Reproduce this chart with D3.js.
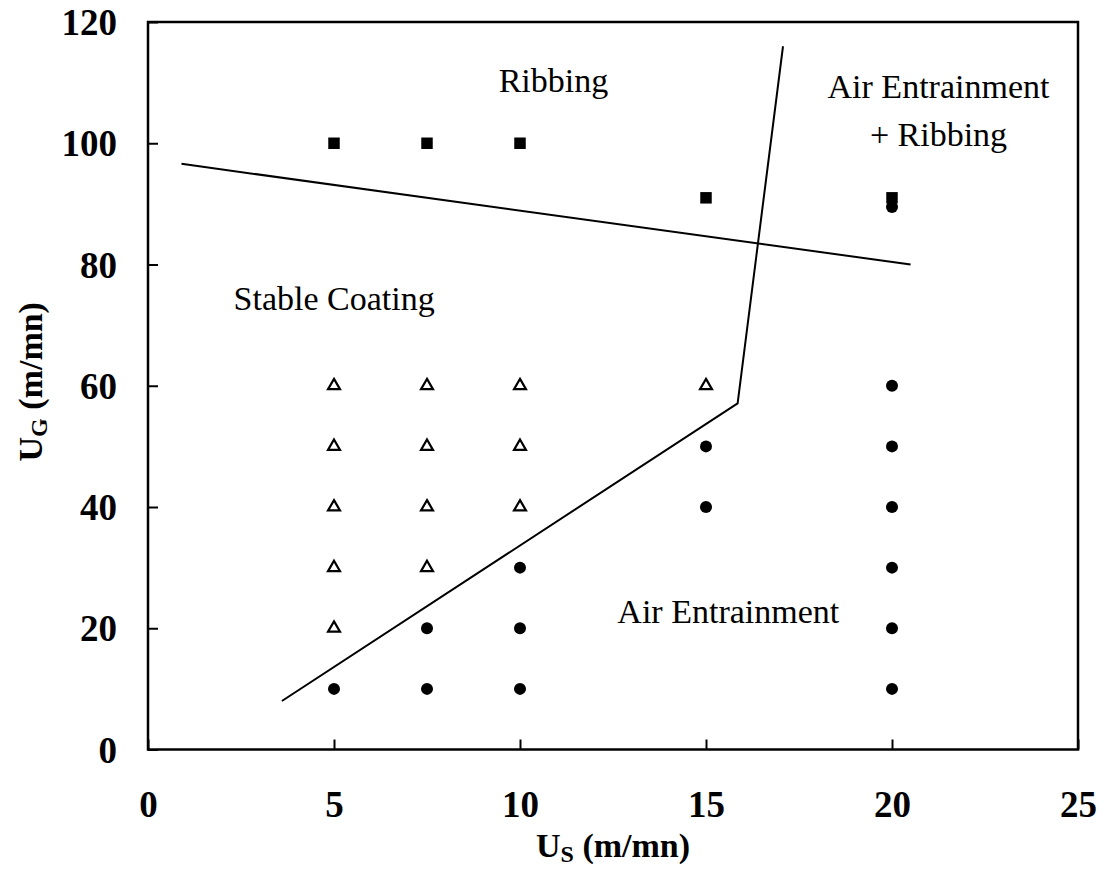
<!DOCTYPE html>
<html lang="en">
  <head>
    <meta charset="utf-8">
    <title>Coating regimes</title>
    <style>
      body { margin: 0; background: #fff; }
      svg text { font-family: "Liberation Serif", "Times New Roman", serif; }
    </style>
  </head>
  <body>
    <svg id="chart"></svg>

    <script src="https://d3js.org/d3.v7.min.js"></script>

    <script type="text/javascript">
      // measured points (Us, Ug) in m/mn
      const stablePoints = [
        [5, 20], [5, 30], [5, 40], [5, 50], [5, 60],
        [7.5, 30], [7.5, 40], [7.5, 50], [7.5, 60],
        [10, 40], [10, 50], [10, 60],
        [15, 60]
      ];
      const airPoints = [
        [5, 10],
        [7.5, 10], [7.5, 20],
        [10, 10], [10, 20], [10, 30],
        [15, 40], [15, 50],
        [20, 10], [20, 20], [20, 30], [20, 40], [20, 50], [20, 60], [20, 89.5]
      ];
      const ribbingPoints = [[5, 100], [7.5, 100], [10, 100], [15, 91], [20, 91]];

      // hand-drawn regime boundaries
      const ribbingBoundary = [[0.9, 96.6], [20.5, 80]];
      const airBoundary = [[3.6, 8], [15.85, 57.1], [17.07, 116]];

      const xTicks = [0, 5, 10, 15, 20, 25];
      const yTicks = [0, 20, 40, 60, 80, 100, 120];

      const labels = [
        { text: 'Ribbing', x: 10.9, y: 108.5, anchor: 'middle' },
        { text: 'Air Entrainment', x: 21.25, y: 107.5, anchor: 'middle' },
        { text: '+ Ribbing', x: 21.25, y: 99.5, anchor: 'middle' },
        { text: 'Stable Coating', x: 2.3, y: 72.5, anchor: 'start' },
        { text: 'Air Entrainment', x: 15.6, y: 20.9, anchor: 'middle' }
      ];

      const width = 1103, height = 874;
      const margin = { top: 22, right: 25, bottom: 124.5, left: 148 };
      const w = width - margin.left - margin.right;
      const h = height - margin.top - margin.bottom;

      const svg = d3.select('#chart')
        .attr('width', width)
        .attr('height', height);

      const g = svg.append('g')
        .attr('transform', `translate(${margin.left},${margin.top})`);

      const x = d3.scaleLinear().domain([0, 25]).range([0, w]);
      const y = d3.scaleLinear().domain([0, 120]).range([h, 0]);

      // axes with inward ticks
      const xAxis = g.append('g')
        .attr('transform', `translate(0,${h})`)
        .call(d3.axisBottom(x).tickValues(xTicks).tickSize(-10).tickPadding(42));
      const yAxis = g.append('g')
        .call(d3.axisLeft(y).tickValues(yTicks).tickSize(-10).tickPadding(31));

      [xAxis, yAxis].forEach(a => {
        a.select('.domain').remove();
        a.selectAll('.tick line').attr('stroke', '#000').attr('stroke-width', 2);
        a.selectAll('.tick text')
          .attr('fill', '#000')
          .style('font-size', '37px')
          .style('font-weight', 'bold');
      });
      yAxis.selectAll('.tick text').attr('dy', '0.34em');
      xAxis.selectAll('.tick text').attr('dy', '0.68em');

      // frame
      g.append('rect')
        .attr('width', w)
        .attr('height', h)
        .attr('fill', 'none')
        .attr('stroke', '#000')
        .attr('stroke-width', 2.5);

      // boundaries
      const line = d3.line().x(d => x(d[0])).y(d => y(d[1]));
      [ribbingBoundary, airBoundary].forEach(b => {
        g.append('path')
          .attr('d', line(b))
          .attr('fill', 'none')
          .attr('stroke', '#000')
          .attr('stroke-width', 2);
      });

      // markers
      g.selectAll('.stable')
        .data(stablePoints)
        .join('path')
        .attr('class', 'stable')
        .attr('transform', d => `translate(${x(d[0])},${y(d[1])})`)
        .attr('d', d3.symbol().type(d3.symbolTriangle).size(62))
        .attr('fill', '#fff')
        .attr('stroke', '#000')
        .attr('stroke-width', 2.2);

      g.selectAll('.air')
        .data(airPoints)
        .join('circle')
        .attr('class', 'air')
        .attr('cx', d => x(d[0]))
        .attr('cy', d => y(d[1]))
        .attr('r', 6)
        .attr('fill', '#000');

      g.selectAll('.ribbing')
        .data(ribbingPoints)
        .join('path')
        .attr('class', 'ribbing')
        .attr('transform', d => `translate(${x(d[0])},${y(d[1])})`)
        .attr('d', d3.symbol().type(d3.symbolSquare).size(132))
        .attr('fill', '#000');

      // region labels
      g.selectAll('.region')
        .data(labels)
        .join('text')
        .attr('class', 'region')
        .attr('x', d => x(d.x))
        .attr('y', d => y(d.y))
        .attr('text-anchor', d => d.anchor)
        .style('font-size', '34px')
        .text(d => d.text);

      // axis titles
      const xTitle = svg.append('text')
        .attr('x', margin.left + w / 2)
        .attr('y', 856.5)
        .attr('text-anchor', 'middle')
        .style('font-size', '34px')
        .style('font-weight', 'bold');
      xTitle.append('tspan').text('U');
      xTitle.append('tspan').attr('dy', 5).style('font-size', '24px').text('S');
      xTitle.append('tspan').attr('dy', -5).text(' (m/mn)');

      const yTitle = svg.append('text')
        .attr('transform', `translate(42,${margin.top + h / 2 - 4}) rotate(-90)`)
        .attr('text-anchor', 'middle')
        .style('font-size', '34px')
        .style('font-weight', 'bold');
      yTitle.append('tspan').text('U');
      yTitle.append('tspan').attr('dy', 5).style('font-size', '24px').text('G');
      yTitle.append('tspan').attr('dy', -5).text(' (m/mn)');
    </script>
  </body>
</html>
